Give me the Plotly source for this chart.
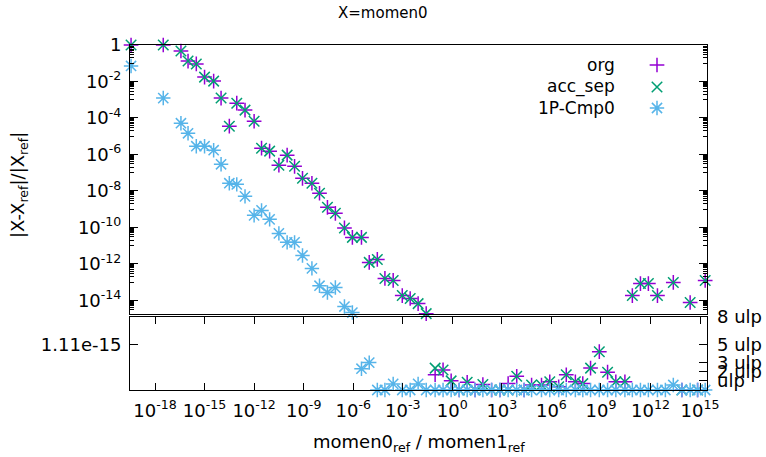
import plotly.graph_objects as go

# ---------------- data ----------------
# log10 of x = momen0_ref / momen1_ref for each sample
x_log10 = [-19.45, -17.50, -16.43, -16.00, -15.50, -15.00, -14.45, -14.00, -13.50, -13.05,
           -12.55, -12.00, -11.55, -11.06, -10.50, -10.00, -9.55, -9.07, -8.50, -8.04,
           -7.56, -7.08, -6.53, -6.05, -5.50, -5.03, -4.54, -4.08, -3.58, -3.03,
           -2.55, -2.07, -1.58, -1.04, -0.56, -0.07, 0.42, 0.90, 1.38, 1.85,
           2.38, 2.88, 3.38, 3.90, 4.35, 4.80, 5.40, 5.90, 6.44, 6.90,
           7.45, 7.90, 8.37, 8.90, 9.40, 9.90, 10.45, 10.90, 11.39, 11.87,
           12.42, 12.90, 13.38, 13.90, 14.40, 14.85, 15.31]

N = None
# log10 of relative error, upper panel (None = not shown / below range)
org_log10_err = [0, 0, -0.33, -0.88, -1.04, -1.76, -1.98, -2.91, -4.45, -3.19,
                 -3.57, -4.18, -5.66, -5.82, -6.59, -6.04, -6.65, -7.31, -7.58, -8.13,
                 -8.90, -9.23, -10.03, -10.55, -10.55, -11.92, -11.76, -12.80, -12.91, -13.74,
                 -13.90, -14.18, -14.73, N, N, N, N, N, N, N,
                 N, N, N, N, N, N, N, N, N, N,
                 N, N, N, N, N, N, N, -13.74, -13.08, -13.08,
                 -13.74, -14.78, -13.02, N, -14.12, N, -12.91]
acc_sep_log10_err = list(org_log10_err)
cmp0_log10_err = [-1.15, -2.91, -4.29, -4.84, -5.55, -5.55, -5.77, -6.54, -7.58, -7.64,
                  -8.30, -9.34, -9.07, -9.56, -10.33, -10.82, -10.82, -11.54, -12.25, -13.20,
                  -13.57, -13.30, -14.34, -14.67, N, N, N, N, N, N,
                  N, N, N, N, N, N, N, N, N, N,
                  N, N, N, N, N, N, N, N, N, N,
                  N, N, N, N, N, N, N, N, N, N,
                  N, N, N, N, N, N, N]

# error in ulp, lower panel (None = off scale)
org_ulp = [N] * 33 + [1.67, 2.2, 1.0, 0, 0.85, 0, 0.6,
                      0, 0, 0.7, 1.5, 0, 0.55, 0.55, 0.9, 0.35, 1.67,
                      0.9, 0.7, 2.4, 4.2, 1.95, 0.9, 0.9, N, N, N,
                      N, N, N, 0, N, 0, N]
acc_sep_ulp = [N] * 33 + [2.4, 2.2, 1.0, 0, 0.85, 0, 0.6,
                          0, 0, 0, 1.5, 0, 0.55, 0.55, 0.9, 0.35, 1.67,
                          0.9, 0.7, 2.4, 4.2, 1.95, 0.9, 0.9, N, N, N,
                          N, N, N, 0, N, 0, N]
cmp0_ulp = [N] * 24 + [2.33, 3.0, 0, 0, 0.67, 0,
                       0, 0.67, 0, 0, 0, 0, 0, 0, 0, 0,
                       0, 0, 0, 0, 0, 0, 0, 0, 0, 0,
                       0, 0, 0, 0, 0, 0, 0, 0, 0, 0,
                       0, 0, 0.55, 0, 0, 0, 0]

series_names = ["org", "acc_sep", "1P-Cmp0"]
x_tick_exps = [-18, -15, -12, -9, -6, -3, 0, 3, 6, 9, 12, 15]
y_tick_exps = [0, -2, -4, -6, -8, -10, -12, -14]
ulp_ticks = [1, 2, 3, 5, 8]
ulp_labels = ["ulp", "2 ulp", "3 ulp", "5 ulp", "8 ulp"]

# ---------------- styling ----------------
colors = ["#9400d3", "#009e73", "#56b4e9"]
symbols = ["cross-thin-open", "x-thin-open", "asterisk-open"]
sizes = [10.5, 10.5, 12]
LW = 1.5
FONT = "DejaVu Sans"
FS = 18

x = [10 ** v for v in x_log10]

def vals(lst):
    return [None if v is None else 10 ** v for v in lst]

fig = go.Figure()
upper = [org_log10_err, acc_sep_log10_err, cmp0_log10_err]
lower = [org_ulp, acc_sep_ulp, cmp0_ulp]
lower_axes = ["y2", "y2", "y3"]
for i in range(3):
    mk = dict(symbol=symbols[i], size=sizes[i], color=colors[i],
              line=dict(color=colors[i], width=LW))
    fig.add_trace(go.Scatter(x=x, y=vals(upper[i]), mode="markers", marker=mk,
                             xaxis="x", yaxis="y", cliponaxis=False,
                             showlegend=False, name=series_names[i]))
for i in range(3):
    mk = dict(symbol=symbols[i], size=sizes[i], color=colors[i],
              line=dict(color=colors[i], width=LW))
    fig.add_trace(go.Scatter(x=x, y=lower[i], mode="markers", marker=mk,
                             xaxis="x2", yaxis=lower_axes[i], cliponaxis=False,
                             showlegend=False, name=series_names[i]))

# legend samples (drawn on a hidden helper axis)
L, R, T, B = 130, 707, 45, 390
W, H = 766, 457
pw, ph = R - L, B - T
leg_y_px = [65, 87, 108]
leg_x_px = 657
leg_y = [1 - (p - T) / ph for p in leg_y_px]
leg_x = (leg_x_px - L) / pw
for i in range(3):
    mk = dict(symbol=symbols[i], size=sizes[i], color=colors[i],
              line=dict(color=colors[i], width=LW))
    fig.add_trace(go.Scatter(x=[leg_x], y=[leg_y[i]], mode="markers", marker=mk,
                             xaxis="x4", yaxis="y4", cliponaxis=False,
                             showlegend=False, hoverinfo="skip"))

xr = [-19.514, 15.42]
up_dom = [1 - (314 - T) / ph, 1]
lo_dom = [0, 1 - (317 - T) / ph]

minor_vals = [k * 10 ** (-(2 * m + 1)) for m in range(8) for k in range(1, 10)]

axis_common = dict(linecolor="black", linewidth=1, showgrid=False, zeroline=False,
                   automargin=False,
                   tickcolor="black", tickfont=dict(family=FONT, size=FS, color="black"))

fig.update_layout(
    width=W, height=H,
    margin=dict(l=L, r=W - R, t=T, b=H - B, autoexpand=False),
    paper_bgcolor="white", plot_bgcolor="rgba(0,0,0,0)",
    font=dict(family=FONT, size=FS, color="black"),
    xaxis=dict(type="log", range=xr, domain=[0, 1], anchor="y",
               showticklabels=False, ticks="", showline=True, mirror=True,
               **axis_common),
    yaxis=dict(type="log", range=[-14.75, 0], domain=up_dom, anchor="x",
               tickmode="array", tickvals=[10 ** e for e in y_tick_exps],
               ticktext=["1" if e == 0 else "10<sup>%d</sup>" % e for e in y_tick_exps],
               ticks="inside", ticklen=8, tickwidth=1, showline=True, mirror="ticks",
               ticklabelstandoff=4,
               minor=dict(tickmode="array", tickvals=minor_vals, ticks="inside",
                          ticklen=4, tickwidth=1, tickcolor="black"),
               **axis_common),
    xaxis2=dict(type="log", range=xr, domain=[0, 1], anchor="y2",
                tickmode="array", tickvals=[10 ** e for e in x_tick_exps],
                ticktext=["10<sup>%d</sup>" % e for e in x_tick_exps],
                ticks="inside", ticklen=7, tickwidth=1, showline=True, mirror="ticks",
                ticklabelstandoff=4,
                **axis_common),
    yaxis2=dict(range=[0, 8], domain=lo_dom, anchor="x2",
                tickmode="array", tickvals=[5], ticktext=["1.11e-15"],
                ticks="inside", ticklen=8, tickwidth=1, showline=True, mirror=True,
                ticklabelstandoff=4,
                **axis_common),
    yaxis3=dict(range=[0, 8], overlaying="y2", side="right", anchor="x2",
                tickmode="array", tickvals=ulp_ticks, ticktext=ulp_labels,
                ticks="inside", ticklen=8, tickwidth=1, showline=False,
                ticklabelstandoff=9,
                **axis_common),
    xaxis4=dict(range=[0, 1], domain=[0, 1], anchor="y4", visible=False),
    yaxis4=dict(range=[0, 1], domain=[0, 1], anchor="x4", visible=False),
    showlegend=False,
)

ann = []
for i in range(3):
    ann.append(dict(text=series_names[i], xref="paper", yref="paper",
                    x=(617 - L) / pw, y=leg_y[i], xanchor="right", yanchor="middle",
                    showarrow=False, font=dict(family=FONT, size=17, color="black")))
ann.append(dict(text="X=momen0", xref="paper", yref="paper",
                x=(W / 2 - L) / pw, y=1 + (T - 13) / ph, xanchor="center", yanchor="middle",
                showarrow=False, font=dict(family=FONT, size=15, color="black")))
ann.append(dict(text="momen0<sub>ref</sub> / momen1<sub>ref</sub>", xref="paper", yref="paper",
                x=0.5, y=-(443 - B) / ph, xanchor="center", yanchor="middle",
                showarrow=False, font=dict(family=FONT, size=FS, color="black")))
ann.append(dict(text="|X-X<sub>ref</sub>|/|X<sub>ref</sub>|", xref="paper", yref="paper",
                x=(19 - L) / pw, y=1 - (185 - T) / ph, xanchor="center", yanchor="middle",
                textangle=-90, showarrow=False,
                font=dict(family=FONT, size=FS, color="black")))
fig.update_layout(annotations=ann)

fig.write_html("out.html")
